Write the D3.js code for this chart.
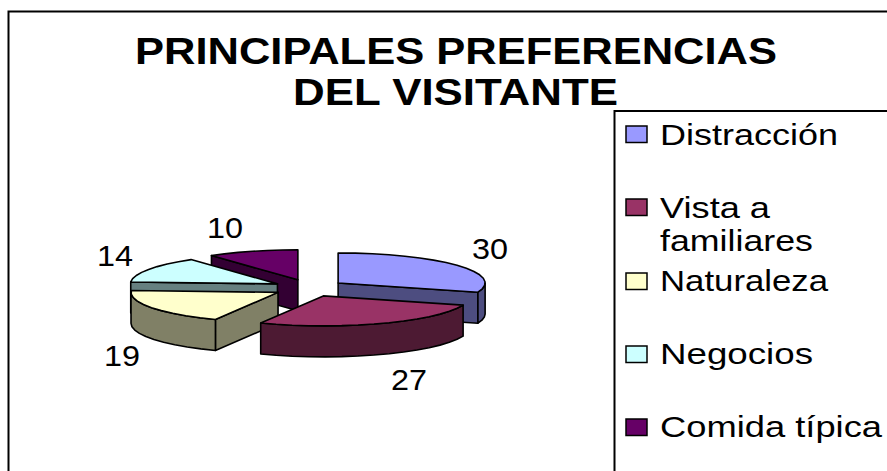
<!DOCTYPE html>
<html><head><meta charset="utf-8">
<script src="https://cdn.jsdelivr.net/npm/d3@7"></script>
<style>html,body{margin:0;padding:0;background:#fff;overflow:hidden}svg{display:block}text{font-family:"Liberation Sans",Arial,sans-serif;fill:#000}</style>
</head><body><svg id="c" width="887" height="471"></svg>
<script>
const categories=["Distracción","Vista a familiares","Naturaleza","Negocios","Comida típica"];
const values=[30,27,19,14,10];
const topColors=["#9999FF","#993366","#FFFFCC","#CCFFFF","#660066"];
const titleLines=["PRINCIPALES PREFERENCIAS","DEL VISITANTE"];

const svg=d3.select("#c");
const rx=147,ry=30,depth=31,cx=309,cy=288,explodeX=36,explodeY=8.6;
const pie=d3.pie().sort(null).value(d=>d).startAngle(0).endAngle(2*Math.PI);
const slices=pie(values).map((d,i)=>({...d,i}));

// frame
svg.append("rect").attr("x",8.5).attr("y",11.5).attr("width",900).attr("height",480)
  .attr("fill","#fff").attr("stroke","#000").attr("stroke-width",2);
svg.append("rect").attr("x",614.5).attr("y",111).attr("width",300).attr("height",400)
  .attr("fill","#fff").attr("stroke","#000").attr("stroke-width",2);

// title
const fit=(sel,w)=>sel.attr("textLength",w).attr("lengthAdjust","spacingAndGlyphs");
const titleBox=[[456,64,642],[455.5,105,325]];
titleLines.forEach((t,i)=>{
  svg.append("text").text(t).attr("x",titleBox[i][0]).attr("y",titleBox[i][1])
   .attr("text-anchor","middle").attr("font-size",37).attr("font-weight","bold").call(fit,titleBox[i][2]);
});

// pie projection
const off=d=>{const m=(d.startAngle+d.endAngle)/2;return [cx+explodeX*Math.sin(m),cy-explodeY*Math.cos(m)];};
const pt=(c,a,z=0)=>[c[0]+rx*Math.sin(a),c[1]-ry*Math.cos(a)+z];
const line=d3.line();
const arcPts=(c,a0,a1,z=0)=>{const n=Math.max(2,Math.ceil((a1-a0)/0.12));return d3.range(n+1).map(k=>pt(c,a0+(a1-a0)*k/n,z));};
const dark=col=>{const r=d3.rgb(col);return d3.rgb(r.r/2,r.g/2,r.b/2).formatHex();};
const face=(pts,fill)=>svg.append("path").attr("d",line(pts)+"Z").attr("fill",fill).attr("stroke","#000").attr("stroke-width",1.6).attr("stroke-linejoin","round");

[4,0,3,2,1].forEach(i=>{
  const d=slices[i],c=off(d),col=topColors[i],dk=dark(col);
  const radial=a=>{const p=pt(c,a);face([c,p,[p[0],p[1]+depth],[c[0],c[1]+depth]],dk);};
  if(Math.sin(d.startAngle)<-1e-6) radial(d.startAngle);
  if(Math.sin(d.endAngle)>1e-6) radial(d.endAngle);
  const lo=Math.max(d.startAngle,Math.PI/2),hi=Math.min(d.endAngle,1.5*Math.PI);
  if(hi>lo){const top=arcPts(c,lo,hi),bot=arcPts(c,lo,hi,depth).reverse();face(top.concat(bot),dk);}
  face([c].concat(arcPts(c,d.startAngle,d.endAngle)),col);
});

// data labels
const labelPos=[[490,259],[409,390],[122,366],[115,266],[225,238]];
slices.forEach((d,i)=>{
  svg.append("text").text(d.value).attr("x",labelPos[i][0]).attr("y",labelPos[i][1])
   .attr("text-anchor","middle").attr("font-size",30).call(fit,36);
});

// legend
const legendRows=[[["Distracción",178]],[["Vista a",110],["familiares",153]],[["Naturaleza",168]],[["Negocios",153]],[["Comida típica",222]]];
const legendBase=[145,218,291,364,437];
const swTop=[126,199,273,346,419];
legendRows.forEach((rows,i)=>{
  svg.append("rect").attr("x",626).attr("y",swTop[i]).attr("width",21).attr("height",16.5)
    .attr("fill",topColors[i]).attr("stroke","#000").attr("stroke-width",1.5);
  rows.forEach((r,k)=>{
    svg.append("text").text(r[0]).attr("x",660).attr("y",legendBase[i]+k*33)
      .attr("font-size",30).call(fit,r[1]);
  });
});
</script></body></html>
